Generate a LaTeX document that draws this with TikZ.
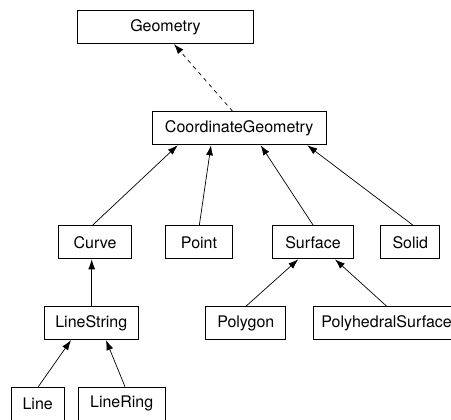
\documentclass[tikz,border=0pt]{standalone}
\usepackage{fontspec}
\setmainfont{TeX Gyre Heros}
\usetikzlibrary{arrows.meta}

\begin{document}
\begin{tikzpicture}[x=1pt,y=-1pt,line width=0.9pt,
    cls/.style={draw,rectangle,minimum height=33,inner xsep=8,font=\fontsize{16}{19}\selectfont},
    inherit/.style={-{Latex[length=10pt,width=7pt]},line width=0.7pt},
    realize/.style={inherit,dash pattern=on 4pt off 4pt}]
    \path[use as bounding box,clip] (0,0) rectangle (451,420);
        \node[cls,minimum width=176] (geom) at (165.5,27.2) {Geometry};
        \node[cls,minimum width=174] (coord) at (239.2,128.3) {CoordinateGeometry};
        % second row
        \node[cls,minimum width=73] (curve) at (95,242.4) {Curve};
        \node[cls,minimum width=67] (point) at (199,242.4) {Point};
        \node[cls,minimum width=81] (surface) at (313,242.4) {Surface};
        \node[cls,minimum width=59] (solid) at (410.3,242.4) {Solid};
        % third row
        \node[cls,minimum width=94] (lstring) at (91.3,323.2) {LineString};
        \node[cls,minimum width=80] (polygon) at (245.8,323.2) {Polygon};
        \node[cls,anchor=west] (polysurf) at (313,323.2) {PolyhedralSurface};
        % fourth row
        \node[cls,minimum width=53,anchor=north] (line) at (37.7,386.7) {Line};
        \node[cls,minimum width=87,anchor=north] (lring) at (121.7,386.7) {LineRing};
        \draw[realize] ([xshift=-6.5]coord.north) to ([xshift=8.5]geom.south);
        \draw[inherit] ([xshift=-2.7]curve.north) to ([xshift=-61.5]coord.south);
        \draw[inherit] ([xshift=0.3]point.north) to ([xshift=-28.2]coord.south);
        \draw[inherit] ([xshift=0.3]surface.north) to ([xshift=21.5]coord.south);
        \draw[inherit] ([xshift=3]solid.north) to ([xshift=68.1]coord.south);
        \draw[inherit] ([xshift=0.4]lstring.north) to ([xshift=-3.3]curve.south);
        \draw[inherit] ([xshift=0.2]polygon.north) to ([xshift=-14.7]surface.south);
        \draw[inherit] ([xshift=73.7]polysurf.north west) to ([xshift=22]surface.south);
        \draw[inherit] ([xshift=0.6]line.north) to ([xshift=-20.3]lstring.south);
        \draw[inherit] ([xshift=3.3]lring.north) to ([xshift=14.7]lstring.south);
      \end{tikzpicture}
\end{document}
